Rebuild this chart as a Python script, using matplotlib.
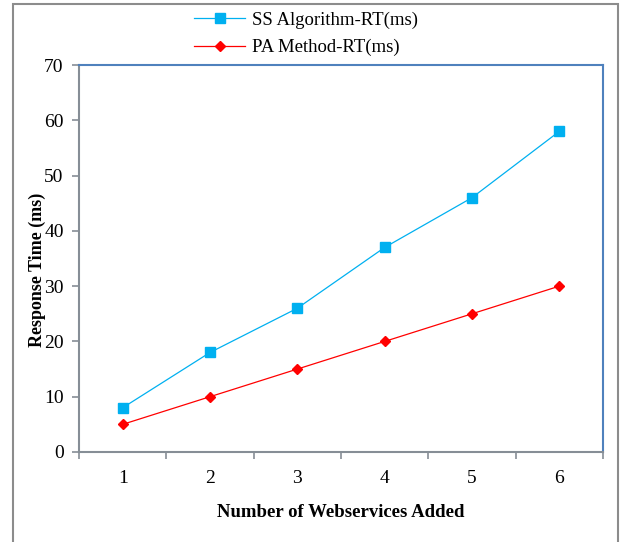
import matplotlib
matplotlib.use("Agg")
import matplotlib.pyplot as plt
from matplotlib.patches import Rectangle

plt.rcParams['font.family'] = ['Liberation Serif', 'DejaVu Serif']

webservices = [1, 2, 3, 4, 5, 6]
ss_rt = [8, 18, 26, 37, 46, 58]
pa_rt = [5, 10, 15, 20, 25, 30]
ss_label = 'SS Algorithm-RT(ms)'
pa_label = 'PA Method-RT(ms)'

fig = plt.figure(figsize=(6.2, 5.42), dpi=100)
ax = fig.add_axes([79 / 620, 1 - 452 / 542, (603 - 79) / 620, (452 - 65) / 542])

l1, = ax.plot(webservices, ss_rt, color='#00B0F0', lw=0.9, marker='s', ms=6.5,
              label=ss_label)
l2, = ax.plot(webservices, pa_rt, color='#FF0000', lw=0.9, marker='D', ms=5,
              label=pa_label)

ax.set_xlim(0.5, 6.5)
ax.set_ylim(0, 70)
ax.set_yticks(range(0, 71, 10))
ax.set_xticks(webservices)
ax.set_xticks([x + 0.5 for x in [0] + webservices], minor=True)
ax.tick_params(axis='x', which='major', length=0, pad=13, labelsize=14)
ax.tick_params(axis='x', which='minor', length=5, color='#868E96', width=1.2)
ax.tick_params(axis='y', length=5, color='#868E96', width=1.2, pad=6, labelsize=14)

for s in ['left', 'bottom']:
    ax.spines[s].set_color('#868E96')
    ax.spines[s].set_linewidth(1.5)
for s in ['top', 'right']:
    ax.spines[s].set_color('#4F81BD')
    ax.spines[s].set_linewidth(1.5)

ax.set_xlabel('Number of Webservices Added', fontsize=13.5, fontweight='bold', labelpad=12)
fig.text(37 / 620, 1 - 270 / 542, 'Response Time (ms)', rotation=90, fontsize=13,
         fontweight='bold', ha='center', va='center')

fig.legend(handles=[l1, l2], loc='center', bbox_to_anchor=(306 / 620, 1 - 34 / 542),
           frameon=False, fontsize=13.5, handlelength=2.7, handletextpad=0.35,
           labelspacing=0.55, borderpad=0)

# outer frame around the chart
fig.patches.append(Rectangle((13 / 620, -0.05), (618 - 13) / 620, 1.05 - 4 / 542,
                             transform=fig.transFigure, fill=False,
                             edgecolor='#8C8C8C', lw=1.5))

fig.savefig('out.png', dpi=100)
